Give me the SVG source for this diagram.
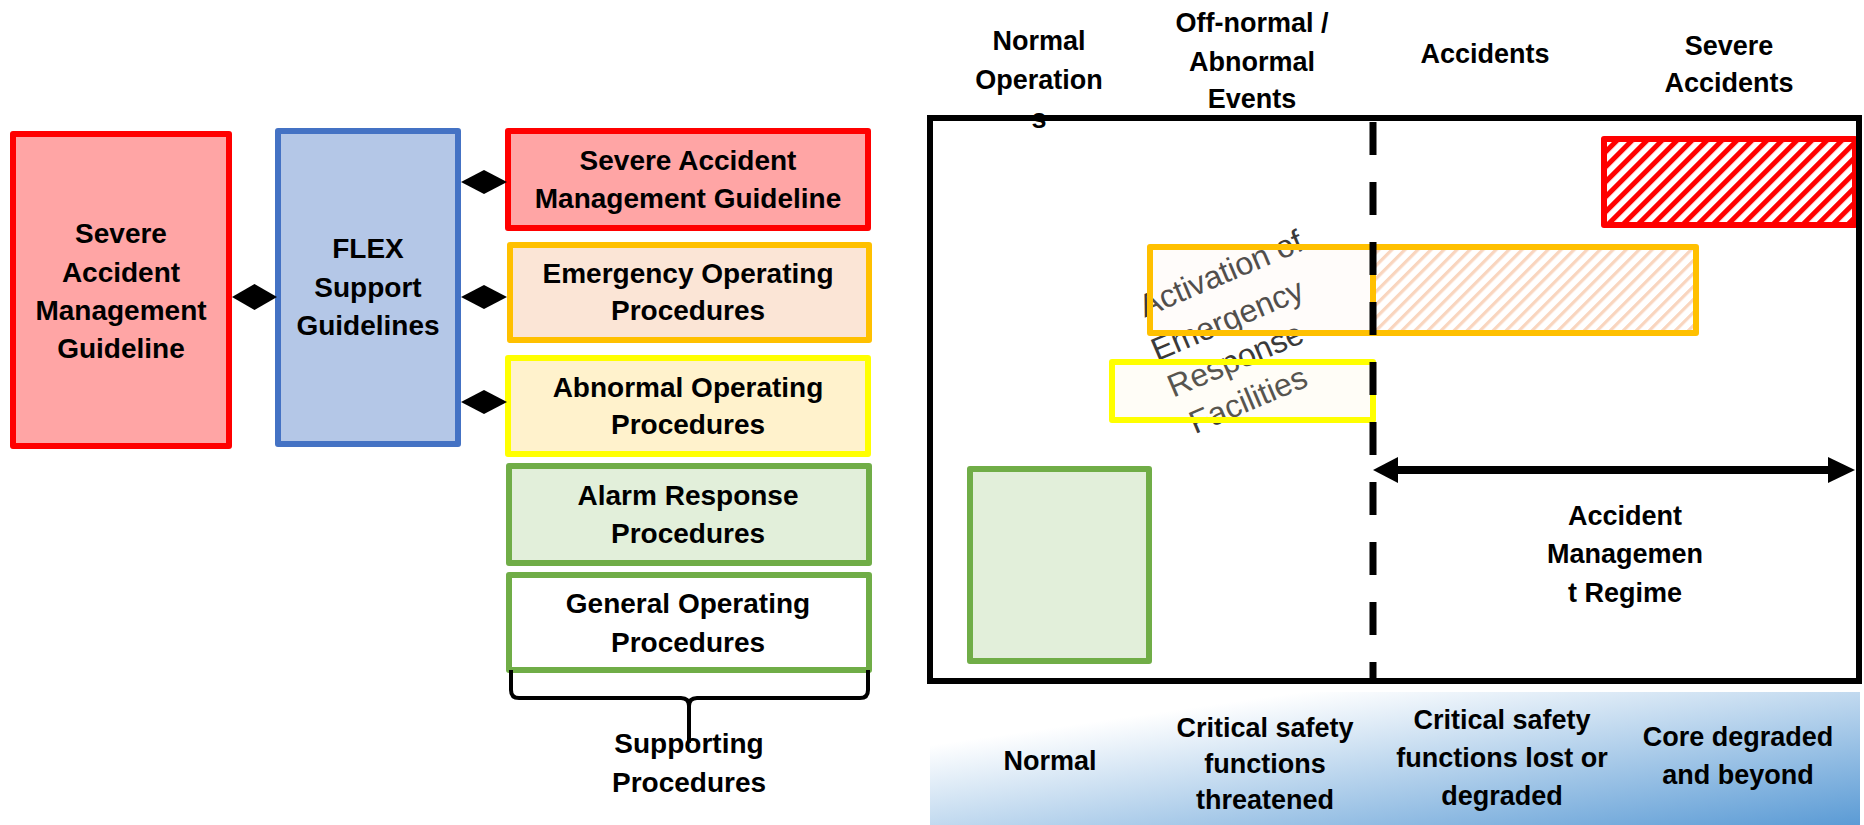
<svg xmlns="http://www.w3.org/2000/svg" width="1864" height="825" viewBox="0 0 1864 825">
<defs>
<style>
.t{font-family:"Liberation Sans",Arial,sans-serif;font-weight:bold;fill:#000;text-anchor:middle}
.t28{font-size:28px}
.t27{font-size:27px}
.box{stroke-width:6;stroke-linejoin:round}
.dia{fill:#000}
</style>
<pattern id="hatchRed" patternUnits="userSpaceOnUse" width="10.6" height="10.6" patternTransform="rotate(45)">
<rect width="10.6" height="10.6" fill="#fff"/>
<rect width="5" height="10.6" fill="#FF0000"/>
</pattern>
<pattern id="hatchOrange" patternUnits="userSpaceOnUse" width="9.2" height="9.2" patternTransform="rotate(45)">
<rect width="9.2" height="9.2" fill="#fff"/>
<rect width="3.2" height="9.2" fill="#F9D5BE"/>
</pattern>
<linearGradient id="band" x1="0" y1="0" x2="1" y2="1">
<stop offset="0" stop-color="#ffffff"/>
<stop offset="0.2" stop-color="#ffffff"/>
<stop offset="1" stop-color="#5B9BD5"/>
</linearGradient>
</defs>

<!-- LEFT PANEL -->
<g id="samg-main">
<rect class="box" x="13" y="134" width="216" height="312" fill="#FFA5A5" stroke="#FF0000"/>
<text class="t t28" x="121" y="243">Severe</text>
<text class="t t28" x="121" y="282">Accident</text>
<text class="t t28" x="121" y="320">Management</text>
<text class="t t28" x="121" y="358">Guideline</text>
</g>
<g id="flex">
<rect class="box" x="278" y="131" width="180" height="313" fill="#B4C7E7" stroke="#4472C4"/>
<text class="t t28" x="368" y="258">FLEX</text>
<text class="t t28" x="368" y="297">Support</text>
<text class="t t28" x="368" y="335">Guidelines</text>
</g>
<g id="samg-small">
<rect class="box" x="508" y="131" width="360" height="97" fill="#FFA5A5" stroke="#FF0000"/>
<text class="t t28" x="688" y="170">Severe Accident</text>
<text class="t t28" x="688" y="208">Management Guideline</text>
</g>
<g id="eop">
<rect class="box" x="510" y="245" width="359" height="95" fill="#FBE5D6" stroke="#FFC000"/>
<text class="t t28" x="688" y="283">Emergency Operating</text>
<text class="t t28" x="688" y="320">Procedures</text>
</g>
<g id="aop">
<rect class="box" x="508" y="358" width="360" height="96" fill="#FFF2CC" stroke="#FFFF00"/>
<text class="t t28" x="688" y="397">Abnormal Operating</text>
<text class="t t28" x="688" y="434">Procedures</text>
</g>
<g id="arp">
<rect class="box" x="509" y="466" width="360" height="97" fill="#E2EFDA" stroke="#70AD47"/>
<text class="t t28" x="688" y="505">Alarm Response</text>
<text class="t t28" x="688" y="543">Procedures</text>
</g>
<g id="gop">
<rect class="box" x="509" y="575" width="360" height="95" fill="#FFFFFF" stroke="#70AD47"/>
<text class="t t28" x="688" y="613">General Operating</text>
<text class="t t28" x="688" y="652">Procedures</text>
</g>
<g id="supporting-label">
<text class="t t28" x="689" y="753">Supporting</text>
<text class="t t28" x="689" y="792">Procedures</text>
</g>

<!-- RIGHT PANEL -->
<g id="headers">
<text class="t t27" x="1039" y="50">Normal</text>
<text class="t t27" x="1039" y="89">Operation</text>
<text class="t t27" x="1039" y="128">s</text>
<text class="t t27" x="1252" y="32">Off-normal /</text>
<text class="t t27" x="1252" y="71">Abnormal</text>
<text class="t t27" x="1252" y="108">Events</text>
<text class="t t27" x="1485" y="63">Accidents</text>
<text class="t t27" x="1729" y="55">Severe</text>
<text class="t t27" x="1729" y="92">Accidents</text>
</g>

<g id="band-labels">
<rect x="930" y="692" width="930" height="133" fill="url(#band)"/>
<text class="t t27" x="1050" y="770">Normal</text>
<text class="t t27" x="1265" y="737">Critical safety</text>
<text class="t t27" x="1265" y="773">functions</text>
<text class="t t27" x="1265" y="809">threatened</text>
<text class="t t27" x="1502" y="729">Critical safety</text>
<text class="t t27" x="1502" y="767">functions lost or</text>
<text class="t t27" x="1502" y="805">degraded</text>
<text class="t t27" x="1738" y="746">Core degraded</text>
<text class="t t27" x="1738" y="784">and beyond</text>
</g>

<g id="erf-label">
<text transform="translate(1237,348) rotate(-23)" font-family="'Liberation Sans',Arial,sans-serif" font-size="32" fill="#3A3A3A" text-anchor="middle"><tspan x="14" y="-64">Activation of</tspan><tspan x="2" y="-19">Emergency</tspan><tspan x="-6" y="21">Response</tspan><tspan x="-10" y="63">Facilities</tspan></text>
</g>

<g id="severe-bar">
<rect class="box" x="1604" y="139" width="251" height="86" fill="url(#hatchRed)" stroke="#FF0000"/>
</g>
<g id="emergency-bar">
<rect class="box" x="1150" y="247" width="223" height="86" fill="#FBE5D6" fill-opacity="0.12" stroke="#FFC000"/>
<rect class="box" x="1373" y="247" width="323" height="86" fill="url(#hatchOrange)" stroke="#FFC000"/>
</g>
<g id="abnormal-bar">
<rect class="box" x="1112" y="362" width="261" height="58" fill="#FFF2CC" fill-opacity="0.15" stroke="#FFFF00"/>
</g>
<g id="normal-bar">
<rect class="box" x="970" y="469" width="179" height="192" fill="#E2EFDA" stroke="#70AD47"/>
</g>

<g id="frame">
<rect x="930" y="118" width="929" height="563" fill="none" stroke="#000" stroke-width="6"/>
</g>

<g id="accident-regime">
<text class="t t27" x="1625" y="525">Accident</text>
<text class="t t27" x="1625" y="563">Managemen</text>
<text class="t t27" x="1625" y="602">t Regime</text>
</g>

<g id="connectors">
<path class="dia" d="M232 297 L254.5 284 L277 297 L254.5 310 Z"/>
<path class="dia" d="M461 182 L484 170 L507 182 L484 194 Z"/>
<path class="dia" d="M461 297 L484 285 L507 297 L484 309 Z"/>
<path class="dia" d="M461 402 L484 390 L507 402 L484 414 Z"/>
<path d="M511 670 L511 690 Q511 698 519 698 L681 698 Q689 698 689 706 L689 743 M689 706 Q689 698 697 698 L860 698 Q868 698 868 690 L868 670" fill="none" stroke="#000" stroke-width="4"/>
<line x1="1373" y1="122" x2="1373" y2="681" stroke="#000" stroke-width="7" stroke-dasharray="33 27"/>
<line x1="1396" y1="470" x2="1830" y2="470" stroke="#000" stroke-width="8"/>
<polygon points="1373,470 1398,457 1398,483" fill="#000"/>
<polygon points="1855,470 1828,457 1828,483" fill="#000"/>
</g>
</svg>
